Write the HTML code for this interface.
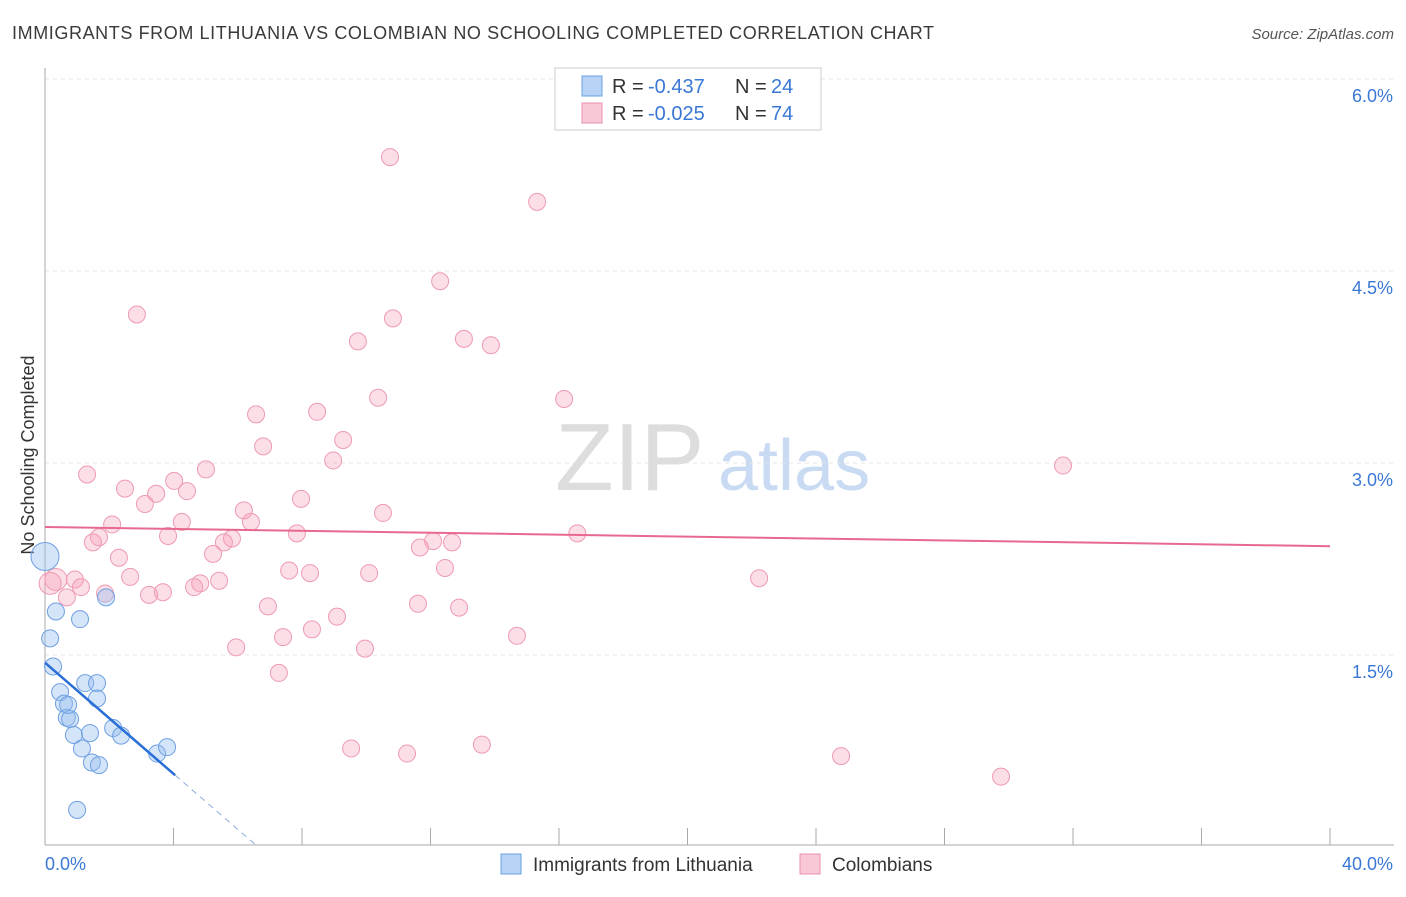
<!DOCTYPE html>
<html><head><meta charset="utf-8"><style>
body{margin:0;background:#fff;font-family:"Liberation Sans",sans-serif;}
svg text{font-family:"Liberation Sans",sans-serif;}
</style></head><body>
<svg id="chart" width="1406" height="892">
<text x="12" y="39" font-size="18" fill="#3a3a3a" textLength="922">IMMIGRANTS FROM LITHUANIA VS COLOMBIAN NO SCHOOLING COMPLETED CORRELATION CHART</text>
<text x="1394" y="39" font-size="15" fill="#555" text-anchor="end" font-style="italic">Source: ZipAtlas.com</text>
<text x="34" y="455" font-size="18" fill="#333" text-anchor="middle" transform="rotate(-90 34 455)">No Schooling Completed</text>
<g><text x="555" y="490" font-size="96" font-family="Liberation Serif" fill="#ddd">ZIP</text><text x="718" y="490" font-size="72" fill="#c9daf3">atlas</text></g>
<g id="grid"></g><g id="axes"></g><g id="marks"></g>
<g>
<rect x="555" y="68" width="266" height="62" fill="#fff" stroke="#ccc"/>
<rect x="582" y="76" width="20" height="20" fill="#b7d3f5" stroke="#6aa0e0"/>
<text x="612" y="93" font-size="20" fill="#333">R =</text><text x="648" y="93" font-size="20" fill="#3a78d6">-0.437</text>
<text x="735" y="93" font-size="20" fill="#333">N =</text><text x="771" y="93" font-size="20" fill="#3a78d6">24</text>
<rect x="582" y="103" width="20" height="20" fill="#f9c8d6" stroke="#ec8fab"/>
<text x="612" y="120" font-size="20" fill="#333">R =</text><text x="648" y="120" font-size="20" fill="#3a78d6">-0.025</text>
<text x="735" y="120" font-size="20" fill="#333">N =</text><text x="771" y="120" font-size="20" fill="#3a78d6">74</text>
</g>
<g>
<rect x="501" y="854" width="20" height="20" fill="#b7d3f5" stroke="#6aa0e0"/>
<text x="533" y="871" font-size="19" fill="#333">Immigrants from Lithuania</text>
<rect x="800" y="854" width="20" height="20" fill="#f9c8d6" stroke="#ec8fab"/>
<text x="832" y="871" font-size="19" fill="#333">Colombians</text>
</g>
</svg>
<script>
const blueX=[0,0.34,1.09,0.16,1.9,0.25,1.25,1.62,0.47,0.59,0.68,0.78,1.62,2.12,0.9,1.4,1.15,2.37,1.46,1.68,3.49,3.8,1.0,0.72];
const blueY=[2.27,1.84,1.78,1.63,1.95,1.41,1.28,1.28,1.21,1.12,1.01,1.0,1.16,0.93,0.875,0.89,0.77,0.87,0.66,0.64,0.73,0.78,0.29,1.11];
const pinkX=[10.74,15.32,12.3,2.86,10.83,9.74,13.04,13.88,10.37,16.16,6.57,8.47,9.28,6.79,8.97,31.69,5.01,1.31,4.02,2.49,4.42,3.46,7.97,3.11,6.19,10.52,4.26,6.41,2.09,16.57,7.84,3.83,1.68,1.49,5.82,5.57,12.08,12.67,11.67,5.23,2.3,12.45,7.6,8.25,10.09,2.65,22.23,0.93,0.34,4.83,5.42,1.12,4.64,3.67,1.87,3.24,0.68,11.61,6.94,12.89,9.09,8.31,7.41,14.69,5.95,9.96,7.28,9.53,11.27,13.6,24.78,29.76,0.16];
const pinkY=[5.39,5.04,4.42,4.16,4.13,3.95,3.97,3.92,3.51,3.5,3.38,3.4,3.18,3.13,3.02,2.98,2.95,2.91,2.86,2.8,2.78,2.76,2.72,2.68,2.63,2.61,2.54,2.54,2.52,2.45,2.45,2.43,2.42,2.38,2.41,2.38,2.39,2.38,2.34,2.29,2.26,2.18,2.16,2.14,2.14,2.11,2.1,2.09,2.09,2.06,2.08,2.03,2.03,1.99,1.98,1.97,1.95,1.9,1.88,1.87,1.8,1.7,1.64,1.65,1.56,1.55,1.36,0.77,0.73,0.8,0.71,0.55,2.06];
const yTicks=[1.5,3.0,4.5,6.0];
const yTickLabels=["1.5%","3.0%","4.5%","6.0%"];
const xTicks=[0,4,8,12,16,20,24,28,32,36,40];
const blueTrend=[1.44,-0.217];
const pinkTrend=[2.5,-0.00375];
const X=v=>45+v/40*1285, Y=v=>847-v/1.5*192;
const NS="http://www.w3.org/2000/svg";
function mk(tag,attrs,parent){const e=document.createElementNS(NS,tag);for(const k in attrs)e.setAttribute(k,attrs[k]);parent.appendChild(e);return e;}
const grid=document.getElementById('grid'),axes=document.getElementById('axes'),marks=document.getElementById('marks');
yTicks.forEach((t,i)=>{
 const l=mk('line',{x1:45,x2:1394,y1:Y(t),y2:Y(t),stroke:'#e4e4e4','stroke-dasharray':'4,4'},grid);
 
 
 const tx=mk('text',{x:1393,y:Y(t)+23,'font-size':18,fill:'#3a78d6','text-anchor':'end'},axes);
 tx.textContent=yTickLabels[i];
 
 
});
const ya=mk('line',{x1:45,x2:45,y1:68,y2:845,stroke:'#aaa'},axes);


const xa=mk('line',{x1:45,x2:1394,y1:845,y2:845,stroke:'#aaa'},axes);


xTicks.forEach(t=>{const l=mk('line',{x1:X(t),x2:X(t),y1:828,y2:845,stroke:'#aaa'},axes);
 
 });
const x0=mk('text',{x:45,y:870,'font-size':18,fill:'#3a78d6'},axes);x0.textContent="0.0%";


const x1=mk('text',{x:1393,y:870,'font-size':18,fill:'#3a78d6','text-anchor':'end'},axes);x1.textContent="40.0%";


pinkX.forEach((x,i)=>{const c=mk('circle',{cx:X(x),cy:Y(pinkY[i]),r:(i>=47&&x<0.5)?11:8.5,fill:'rgba(245,160,185,0.35)',stroke:'#ee9ab3','stroke-width':1},marks);
 
 });
blueX.forEach((x,i)=>{const c=mk('circle',{cx:X(x),cy:Y(blueY[i]),r:i==0?14:8.5,fill:'rgba(150,190,240,0.4)',stroke:'#6fa0e2','stroke-width':1},marks);
 
 });
const pt=mk('line',{x1:X(0),y1:Y(pinkTrend[0]),x2:X(40),y2:Y(pinkTrend[0]+pinkTrend[1]*40),stroke:'#e8698f','stroke-width':2},marks);


const bt=mk('line',{x1:X(0),y1:Y(blueTrend[0]),x2:X(4.05),y2:Y(blueTrend[0]+blueTrend[1]*4.05),stroke:'#2a6fd6','stroke-width':2.5},marks);


const bd=mk('line',{x1:X(4.05),y1:Y(blueTrend[0]+blueTrend[1]*4.05),x2:X(6.6),y2:Y(blueTrend[0]+blueTrend[1]*6.6),stroke:'#8aaede','stroke-width':1,'stroke-dasharray':'6,5'},marks);


</script>
</body></html>
